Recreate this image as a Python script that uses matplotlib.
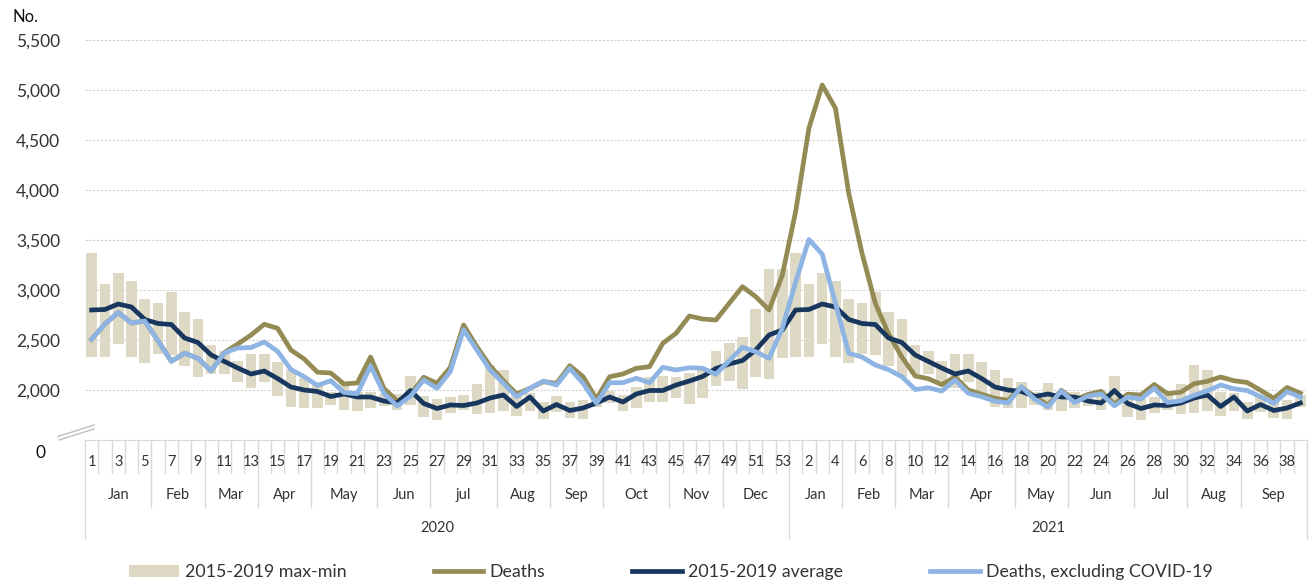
import numpy as np
import matplotlib.pyplot as plt
from matplotlib.lines import Line2D
from matplotlib.ticker import FuncFormatter

plt.rcParams['font.family'] = ['Lato', 'DejaVu Sans']

# weeks: 2020 has 53, 2021 runs to week 39
weeks_2020 = list(range(1, 54))
weeks_2021 = list(range(1, 40))
week_labels = [str(w) for w in weeks_2020 + weeks_2021]

months_2020 = ["Jan", "Feb", "Mar", "Apr", "May", "Jun", "jul", "Aug", "Sep", "Oct", "Nov", "Dec"]
month_weeks_2020 = [5, 4, 4, 4, 5, 4, 5, 4, 4, 5, 4, 5]
months_2021 = ["Jan", "Feb", "Mar", "Apr", "May", "Jun", "Jul", "Aug", "Sep"]
month_weeks_2021 = [4, 4, 4, 5, 4, 5, 4, 4, 5]
years = ["2020", "2021"]

range_max = [3367, 3057, 3167, 3090, 2907, 2870, 2977, 2780, 2707, 2445,
             2385, 2285, 2358, 2358, 2285, 2200, 2122, 2083, 1985, 2070,
             1983, 1983, 1965, 1960, 2145, 1945, 1912, 1933, 1952, 2057,
             2250, 2200, 1980, 1967, 1883, 1942, 1883, 1900, 1950, 1993,
             1950, 2033, 2133, 2140, 2133, 2167, 2200, 2390, 2467, 2527,
             2810, 3207, 3207,
             3367, 3057, 3167, 3090, 2907, 2870, 2977, 2780, 2707, 2445,
             2385, 2285, 2358, 2358, 2285, 2200, 2122, 2083, 1985, 2070,
             1983, 1983, 1965, 1960, 2145, 1945, 1912, 1933, 1952, 2057,
             2250, 2200, 1980, 1967, 1883, 1942, 1883, 1900, 1950]
range_min = [2327, 2333, 2463, 2333, 2273, 2357, 2350, 2243, 2133, 2157,
             2157, 2077, 2017, 2083, 1940, 1833, 1822, 1823, 1850, 1800,
             1795, 1823, 1845, 1802, 1855, 1733, 1700, 1775, 1797, 1758,
             1767, 1790, 1745, 1788, 1710, 1777, 1717, 1707, 1833, 1867,
             1793, 1817, 1883, 1883, 1917, 1857, 1917, 2043, 2090, 2010,
             2133, 2107, 2323,
             2327, 2333, 2463, 2333, 2273, 2357, 2350, 2243, 2133, 2157,
             2157, 2077, 2017, 2083, 1940, 1833, 1822, 1823, 1850, 1800,
             1795, 1823, 1845, 1802, 1855, 1733, 1700, 1775, 1797, 1758,
             1767, 1790, 1745, 1788, 1710, 1777, 1717, 1707, 1833]
average = [2800, 2805, 2860, 2830, 2705, 2665, 2655, 2520, 2475, 2350,
           2285, 2220, 2160, 2190, 2115, 2030, 2000, 1985, 1935, 1960,
           1930, 1930, 1890, 1870, 1995, 1865, 1815, 1850, 1845, 1870,
           1920, 1950, 1835, 1930, 1790, 1855, 1795, 1820, 1870, 1930,
           1880, 1960, 1995, 1995, 2050, 2090, 2135, 2215, 2260, 2295,
           2400, 2550, 2600,
           2800, 2805, 2860, 2830, 2705, 2665, 2655, 2520, 2475, 2350,
           2285, 2220, 2160, 2190, 2115, 2030, 2000, 1985, 1935, 1960,
           1930, 1930, 1890, 1870, 1995, 1865, 1815, 1850, 1845, 1870,
           1920, 1950, 1835, 1930, 1790, 1855, 1795, 1820, 1870]
deaths = [2508, 2660, 2775, 2670, 2690, 2492, 2287, 2368, 2317, 2192,
          2375, 2460, 2550, 2657, 2617, 2400, 2310, 2178, 2170, 2060,
          2070, 2330, 2017, 1890, 1955, 2127, 2068, 2225, 2650, 2433,
          2240, 2093, 1960, 2017, 2083, 2067, 2243, 2133, 1910, 2133,
          2160, 2217, 2233, 2467, 2567, 2740, 2710, 2700, 2867, 3033,
          2933, 2800, 3150,
          3783, 4617, 5050, 4817, 3967, 3367, 2867, 2560, 2330, 2140,
          2113, 2053, 2130, 2000, 1958, 1917, 1897, 2030, 1933, 1850,
          1997, 1900, 1955, 1987, 1862, 1958, 1950, 2055, 1963, 1978,
          2063, 2087, 2130, 2093, 2075, 1997, 1917, 2025, 1967]
excl_covid = [2508, 2660, 2775, 2670, 2690, 2492, 2287, 2368, 2317, 2192,
              2372, 2420, 2425, 2480, 2387, 2205, 2133, 2045, 2093, 1975,
              1963, 2240, 1967, 1840, 1937, 2100, 2017, 2183, 2603, 2400,
              2200, 2067, 1933, 2017, 2090, 2050, 2217, 2067, 1867, 2073,
              2073, 2117, 2073, 2227, 2200, 2223, 2217, 2157, 2293, 2427,
              2383, 2317, 2617,
              3080, 3505, 3360, 2867, 2367, 2330, 2250, 2203, 2133, 2005,
              2022, 1990, 2100, 1967, 1933, 1888, 1872, 2033, 1907, 1830,
              1992, 1873, 1940, 1960, 1842, 1930, 1910, 2017, 1875, 1892,
              1947, 1992, 2050, 2012, 1995, 1933, 1867, 1983, 1930]

W, H = 1313, 584
fig = plt.figure(figsize=(W / 100, H / 100), dpi=100)
ax = fig.add_axes([85 / W, 1 - 440 / H, 1222 / W, 400 / H])

n = len(week_labels)
x = np.arange(n)
lo = np.array(range_min)
hi = np.array(range_max)

bars = ax.bar(x, hi - lo, bottom=lo, width=0.8, color="#DDD9C4", label="2015-2019 max-min", zorder=1)
l1, = ax.plot(x, deaths, color="#948A54", lw=3.4, label="Deaths", zorder=3)
l2, = ax.plot(x, average, color="#17375E", lw=3.4, label="2015-2019 average", zorder=4)
l3, = ax.plot(x, excl_covid, color="#8DB4E2", lw=3.4, label="Deaths, excluding COVID-19", zorder=5)

ax.set_xlim(-0.5, n - 0.5)
ax.set_ylim(1500, 5500)
ax.set_yticks(np.arange(2000, 5501, 500))
ax.yaxis.set_major_formatter(FuncFormatter(lambda v, p: f"{v:,.0f}"))
ax.tick_params(axis="y", length=0, pad=18, labelsize=12.5, labelcolor="#333333")
ax.set_xticks([])
ax.yaxis.grid(True, color="#D0D0D0", ls=(0, (2, 1.5)), lw=0.8)
ax.set_axisbelow(True)
for s in ["top", "right", "left"]:
    ax.spines[s].set_visible(False)
ax.spines["bottom"].set_color("#D9D9D9")

# multi-level category axis
trans = ax.get_xaxis_transform()
r1, r2, r3 = 33 / 400, 67 / 400, 98 / 400
grid_col = "#D9D9D9"

month_names = months_2020 + months_2021
month_lens = month_weeks_2020 + month_weeks_2021
month_edges = set(np.cumsum([0] + month_lens).tolist())
year_lens = [len(weeks_2020), len(weeks_2021)]
year_edges = set(np.cumsum([0] + year_lens).tolist())

for k in range(n + 1):
    if k in year_edges:
        depth = r3
    elif k in month_edges:
        depth = r2
    else:
        depth = r1
    ax.plot([k - 0.5, k - 0.5], [0, -depth], transform=trans, clip_on=False,
            color=grid_col, lw=1, zorder=0)

for i in range(0, n, 2):
    ax.text(i, -0.055, week_labels[i], transform=trans, ha="center", va="center",
            fontsize=10.5, color="#333333")

start = 0
for name, ln in zip(month_names, month_lens):
    ax.text(start + (ln - 1) / 2, -0.137, name, transform=trans, ha="center", va="center",
            fontsize=10.5, color="#333333")
    start += ln

start = 0
for name, ln in zip(years, year_lens):
    ax.text(start + (ln - 1) / 2, -0.22, name, transform=trans, ha="center", va="center",
            fontsize=10.5, color="#333333")
    start += ln

# axis break and the "0" label
fig.text(40 / W, 1 - 453 / H, "0", ha="center", va="center", fontsize=12.5, color="#111111")
fig.text(12 / W, 1 - 17 / H, "No.", ha="left", va="center", fontsize=12, color="#111111")
for (x0, y0, x1, y1) in [(58, 436.5, 94, 425), (59, 440, 94, 429)]:
    fig.add_artist(Line2D([x0 / W, x1 / W], [1 - y0 / H, 1 - y1 / H], color="#BFBFBF", lw=1,
                          transform=fig.transFigure))

fig.legend(handles=[bars, l1, l2, l3], loc="center", bbox_to_anchor=(671 / W, 1 - 572 / H),
           ncol=4, frameon=False, fontsize=12.8, handlelength=2.8, handletextpad=0.35,
           columnspacing=4.9, labelcolor="#333333")

fig.savefig("out.png", dpi=100)
